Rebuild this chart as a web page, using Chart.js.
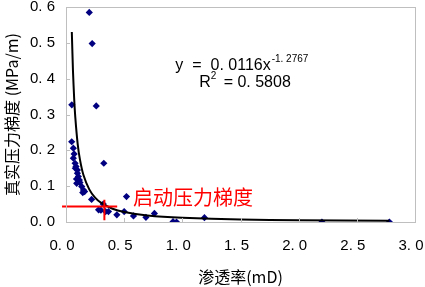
<!DOCTYPE html>
<html>
<head>
<meta charset="utf-8">
<script src="https://cdn.jsdelivr.net/npm/chart.js@4/dist/chart.umd.min.js"></script>
<style>
  html, body { margin: 0; padding: 0; background: #fff; }
  #wrap { width: 425px; height: 287px; }
</style>
</head>
<body>
<div id="wrap"><canvas id="data" width="425" height="287"></canvas></div>
<script>
// 渗透率 (mD) / 真实压力梯度 (MPa/m)
const kPerm = [0.20, 0.225, 0.05, 0.26, 0.049, 0.063, 0.063, 0.078, 0.086, 0.098,
  0.098, 0.106, 0.115, 0.092, 0.135, 0.15, 0.144, 0.325, 0.22, 0.28,
  0.32, 0.365, 0.437, 0.50, 0.52, 0.58, 0.687, 0.76, 0.92, 0.95,
  1.19, 2.20, 2.78, 0.07, 0.08, 0.12, 0.09, 0.16, 0.30, 0.34];
const gradP = [0.585, 0.498, 0.327, 0.324, 0.224, 0.206, 0.178, 0.164, 0.155, 0.145,
  0.136, 0.127, 0.117, 0.108, 0.099, 0.089, 0.082, 0.164, 0.063, 0.034,
  0.050, 0.029, 0.020, 0.029, 0.071, 0.017, 0.013, 0.024, 0.001, 0.0,
  0.012, 0.0, 0.0, 0.19, 0.15, 0.11, 0.12, 0.085, 0.033, 0.029];

// trend line
const fitX = [0.05, 0.06, 0.07, 0.08, 0.10, 0.12, 0.15, 0.20, 0.25, 0.30, 0.40, 0.50, 0.70, 1.0, 1.5, 2.0, 2.78];
const fitY = [0.530, 0.421, 0.346, 0.292, 0.219, 0.174, 0.131, 0.091, 0.068, 0.054, 0.037, 0.028, 0.018, 0.0116, 0.0069, 0.0048, 0.0032];

// red cross (启动压力梯度)
const crossH = [[-0.034, 0.043], [0.44, 0.043]];
const crossV = [[0.33, 0.062], [0.33, 0.005]];

const xTicks = [0, 0.5, 1.0, 1.5, 2.0, 2.5, 3.0];
const yTicks = [0, 0.1, 0.2, 0.3, 0.4, 0.5, 0.6];

const points = kPerm.map((k, i) => ({ x: k, y: gradP[i] }));
const fitPts = fitX.map((k, i) => ({ x: k, y: fitY[i] }));

const cadre = {
  id: "cadre",
  afterDraw(chart) {
    const ctx = chart.ctx;
    const a = chart.chartArea;
    const sx = chart.scales.x, sy = chart.scales.y;
    ctx.save();
    ctx.strokeStyle = "#BFBFBF";
    ctx.lineWidth = 1;
    ctx.strokeRect(a.left + 0.5, a.top + 0.5, a.right - a.left, a.bottom - a.top);
    ctx.beginPath();
    for (const v of xTicks) {
      const p = Math.round(sx.getPixelForValue(v)) + 0.5;
      ctx.moveTo(p, a.bottom);
      ctx.lineTo(p, a.bottom - 4);
    }
    for (const v of yTicks) {
      const p = Math.round(sy.getPixelForValue(v)) + 0.5;
      ctx.moveTo(a.left, p);
      ctx.lineTo(a.left + 4, p);
    }
    ctx.stroke();

    // equation
    const f = s => s + "px 'Liberation Sans', Arial, sans-serif";
    ctx.fillStyle = "#000";
    ctx.textBaseline = "middle";
    ctx.font = f(16);
    const ex = sx.getPixelForValue(0.94);
    const ey = sy.getPixelForValue(0.436);
    const l1 = "y  =  0. 0116x";
    ctx.fillText(l1, ex, ey);
    const w1 = ctx.measureText(l1).width;
    ctx.font = f(10);
    ctx.fillText("-1. 2767", ex + w1 + 1, ey - 7);
    ctx.font = f(16);
    const rx = sx.getPixelForValue(1.145);
    const ry = sy.getPixelForValue(0.388);
    ctx.fillText("R", rx, ry);
    const wr = ctx.measureText("R").width;
    ctx.font = f(10);
    ctx.fillText("2", rx + wr, ry - 7);
    ctx.font = f(16);
    ctx.fillText("  = 0. 5808", rx + wr + 4, ry);

    // label
    ctx.fillStyle = "#FF0000";
    ctx.font = "20px 'Noto Sans CJK SC', sans-serif";
    ctx.fillText("启动压力梯度", sx.getPixelForValue(0.575), sy.getPixelForValue(0.069));
    ctx.restore();
  }
};

const config = {
  type: "scatter",
  data: {
    datasets: [
      {
        data: points,
        pointStyle: "rectRot",
        pointRadius: 3.6,
        backgroundColor: "#000080",
        borderColor: "#000080",
        borderWidth: 0,
        order: 2
      },
      {
        data: fitPts,
        showLine: true,
        pointRadius: 0,
        borderColor: "#000000",
        borderWidth: 2,
        tension: 0.2,
        order: 1
      },
      {
        data: crossH.map(p => ({ x: p[0], y: p[1] })),
        showLine: true,
        pointRadius: 0,
        borderColor: "#FF0000",
        borderWidth: 2,
        clip: false,
        order: 0
      },
      {
        data: crossV.map(p => ({ x: p[0], y: p[1] })),
        showLine: true,
        pointRadius: 0,
        borderColor: "#FF0000",
        borderWidth: 2,
        clip: false,
        order: 0
      }
    ]
  },
  options: {
    responsive: false,
    animation: false,
    layout: { padding: { top: 7, right: 10, left: 0, bottom: 0 } },
    scales: {
      x: {
        type: "linear",
        min: 0,
        max: 3,
        afterBuildTicks: s => { s.ticks = xTicks.map(v => ({ value: v })); },
        afterFit: s => { s.height = 65; s.paddingLeft = 0; s.paddingRight = 0; },
        grid: { display: false, drawTicks: false },
        border: { display: false },
        ticks: {
          padding: 15,
          labelOffset: -4,
          color: "#000",
          font: { family: "'Liberation Sans', Arial, sans-serif", size: 15 },
          callback: v => v.toFixed(1).replace(".", ". ")
        },
        title: {
          display: true,
          text: "渗透率(mD)",
          color: "#000",
          font: { family: "'Noto Sans CJK SC', sans-serif", size: 16 },
          padding: { top: 0, bottom: 0 }
        }
      },
      y: {
        type: "linear",
        min: 0,
        max: 0.6,
        afterBuildTicks: s => { s.ticks = yTicks.map(v => ({ value: v })); },
        afterFit: s => { s.width = 66; s.paddingTop = 0; s.paddingBottom = 0; },
        grid: { display: false, drawTicks: false },
        border: { display: false },
        ticks: {
          padding: 11,
          color: "#000",
          font: { family: "'Liberation Sans', Arial, sans-serif", size: 15 },
          callback: v => v.toFixed(1).replace(".", ". ")
        },
        title: {
          display: true,
          text: "真实压力梯度 (MPa/m)",
          color: "#000",
          font: { family: "'Noto Sans CJK SC', sans-serif", size: 16 },
          padding: { top: 2, bottom: 0 }
        }
      }
    },
    plugins: {
      legend: { display: false },
      tooltip: { enabled: false }
    }
  },
  plugins: [cadre]
};

new Chart(document.getElementById("data"), config);
</script>
</body>
</html>
